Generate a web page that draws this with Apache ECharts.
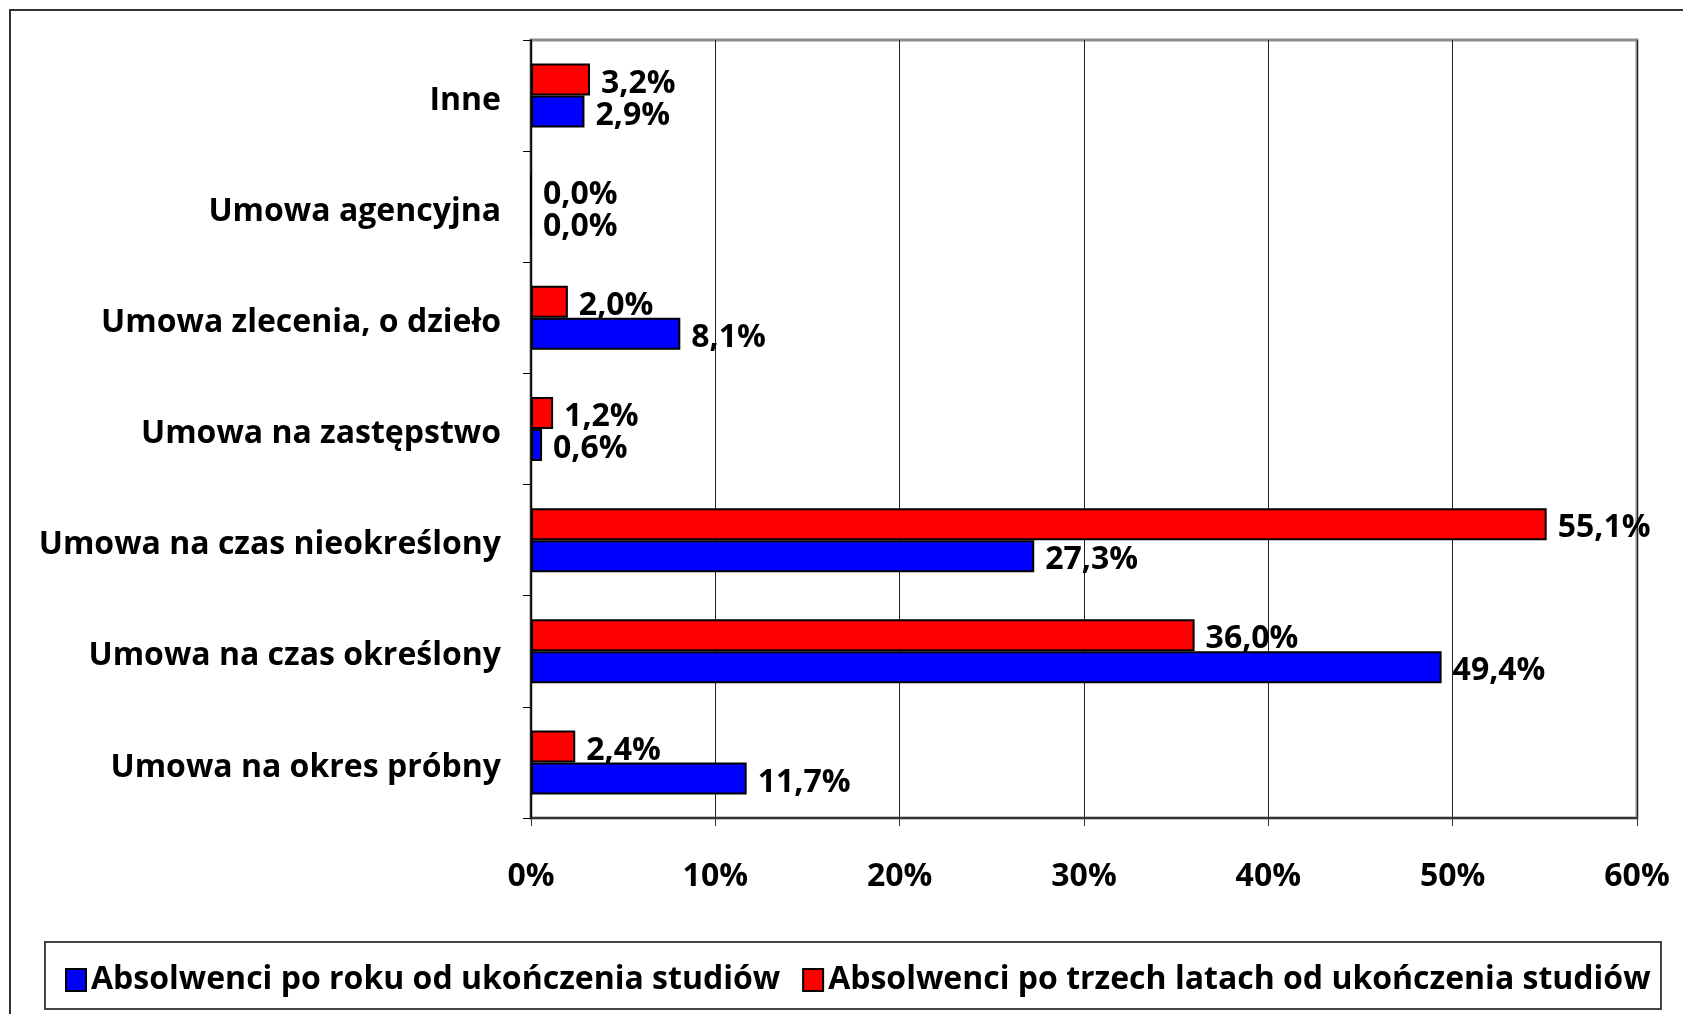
<!DOCTYPE html>
<html>
<head>
<meta charset="utf-8">
<script src="https://cdn.jsdelivr.net/npm/echarts@6/dist/echarts.min.js"></script>
<style>
    html, body { margin: 0; padding: 0; background: #fff; }
    #main { width: 1683px; height: 1014px; }
</style>
</head>
<body>
<div id="main"></div>
<script>
/*kategorie od dołu do góry*/
var categories = ['Umowa na okres próbny', 'Umowa na czas określony', 'Umowa na czas nieokreślony',
    'Umowa na zastępstwo', 'Umowa zlecenia, o dzieło', 'Umowa agencyjna', 'Inne'];
var poRoku = [11.7, 49.4, 27.3, 0.6, 8.1, 0.0, 2.9];
var poTrzechLatach = [2.4, 36.0, 55.1, 1.2, 2.0, 0.0, 3.2];
var seriesNames = ['Absolwenci po roku od ukończenia studiów', 'Absolwenci po trzech latach od ukończenia studiów'];
var xTicks = [0, 10, 20, 30, 40, 50, 60];

var font = '"Open Sans", Lato, sans-serif';
var fSize = 32;

var fmtValue = function (p) {
    return p.value.toFixed(1).replace('.', ',') + '%';
};

var barLabel = {
    show: true,
    position: 'right',
    distance: 11,
    offset: [0, 4],
    formatter: fmtValue,
    fontFamily: font,
    fontWeight: 'bold',
    fontSize: fSize,
    color: '#000'
};

var myChart = echarts.init(document.getElementById('main'));

var option = {
    animation: false,
    backgroundColor: '#fff',
    textStyle: { fontFamily: font },
    graphic: [
        {
            type: 'rect',
            shape: { x: 10, y: 10, width: 1700, height: 1100 },
            style: { fill: 'none', stroke: '#333', lineWidth: 2 }
        },
        {
            type: 'rect',
            shape: { x: 45, y: 942, width: 1616, height: 67 },
            style: { fill: 'none', stroke: '#444', lineWidth: 2 }
        }
    ],
    grid: {
        left: 531,
        right: 46,
        top: 40,
        bottom: 196,
        show: true,
        borderColor: '#8c8c8c',
        borderWidth: 3,
        containLabel: false
    },
    legend: {
        left: 60,
        top: 959,
        icon: 'rect',
        itemWidth: 20,
        itemHeight: 22,
        itemGap: 22,
        data: seriesNames,
        textStyle: { fontFamily: font, fontWeight: 'bold', fontSize: fSize, color: '#000' }
    },
    xAxis: {
        type: 'value',
        min: xTicks[0],
        max: xTicks[xTicks.length - 1],
        interval: 10,
        axisLine: { show: true, lineStyle: { color: '#333', width: 2 } },
        axisTick: { show: true, length: 8, lineStyle: { color: '#333', width: 1 } },
        splitLine: { show: true, lineStyle: { color: '#222', width: 1 } },
        axisLabel: {
            margin: 43,
            formatter: '{value}%',
            fontFamily: font,
            fontWeight: 'bold',
            fontSize: fSize,
            color: '#000'
        }
    },
    yAxis: {
        type: 'category',
        data: categories,
        axisLine: { show: true, lineStyle: { color: '#000', width: 1.5 } },
        axisTick: { show: true, length: 8, lineStyle: { color: '#000', width: 1 } },
        axisLabel: {
            margin: 30,
            formatter: function (v) { return '{c|' + v + '}'; },
            rich: {
                c: {
                    padding: [10, 0, 0, 0],
                    fontFamily: font,
                    fontWeight: 'bold',
                    fontSize: fSize,
                    color: '#000'
                }
            }
        }
    },
    /*czerwona seria pierwsza = górny słupek w grupie*/
    series: [
        {
            name: seriesNames[1],
            type: 'bar',
            data: poTrzechLatach,
            barWidth: 32,
            barGap: 0,
            itemStyle: { color: '#ff0000', borderColor: '#000', borderWidth: 2 },
            label: barLabel
        },
        {
            name: seriesNames[0],
            type: 'bar',
            data: poRoku,
            barWidth: 32,
            barGap: 0,
            itemStyle: { color: '#0000ff', borderColor: '#000', borderWidth: 2 },
            label: barLabel
        }
    ]
};

myChart.setOption(option);
</script>
</body>
</html>
